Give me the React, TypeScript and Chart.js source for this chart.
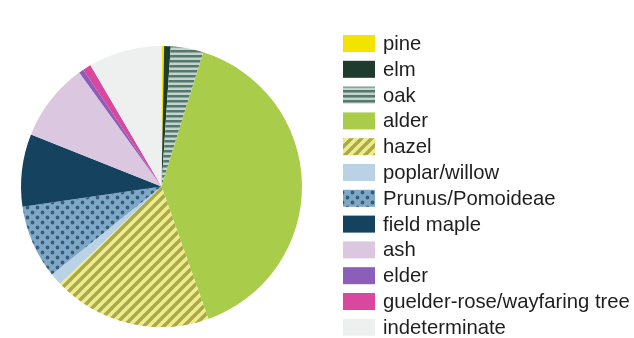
import React, { useEffect, useRef } from "react";
import { Chart, registerables } from "chart.js";

Chart.register(...registerables);

const categories = [
  "pine",
  "elm",
  "oak",
  "alder",
  "hazel",
  "poplar/willow",
  "Prunus/Pomoideae",
  "field maple",
  "ash",
  "elder",
  "guelder-rose/wayfaring tree",
  "indeterminate",
];

const percentages = [0.3, 0.75, 3.75, 39.75, 18.25, 1.4, 8.45, 8.35, 9.0, 0.55, 0.97, 8.43];

const solidColors = [
  "#f2e400",
  "#1d3b2f",
  "oak",
  "#a9cd4a",
  "hazel",
  "#b9d2e6",
  "prunus",
  "#14425f",
  "#dcc7e0",
  "#8c5db9",
  "#d9479f",
  "#eef0f0",
];

function makeTile(size: number, draw: (ctx: CanvasRenderingContext2D) => void) {
  const c = document.createElement("canvas");
  c.width = size;
  c.height = size;
  const ctx = c.getContext("2d")!;
  draw(ctx);
  return c;
}

function buildFills(ctx: CanvasRenderingContext2D) {
  const oakTile = makeTile(5, (t) => {
    t.fillStyle = "#c2d5cd";
    t.fillRect(0, 0, 5, 5);
    t.fillStyle = "#56776d";
    t.fillRect(0, 0, 5, 2.5);
  });
  const hazelTile = makeTile(10, (t) => {
    t.fillStyle = "#eded8e";
    t.fillRect(0, 0, 10, 10);
    t.strokeStyle = "#aaa848";
    t.lineWidth = 3.4;
    t.beginPath();
    t.moveTo(-2, 12);
    t.lineTo(12, -2);
    t.moveTo(-7, 7);
    t.lineTo(7, -7);
    t.moveTo(3, 17);
    t.lineTo(17, 3);
    t.stroke();
  });
  const prunusTile = makeTile(10, (t) => {
    t.fillStyle = "#7ea8c7";
    t.fillRect(0, 0, 10, 10);
    t.fillStyle = "#3b5b77";
    t.beginPath();
    t.arc(2.5, 2.5, 1.9, 0, Math.PI * 2);
    t.closePath();
    t.moveTo(9.4, 7.5);
    t.arc(7.5, 7.5, 1.9, 0, Math.PI * 2);
    t.fill();
  });
  const map: Record<string, CanvasPattern | string> = {
    oak: ctx.createPattern(oakTile, "repeat")!,
    hazel: ctx.createPattern(hazelTile, "repeat")!,
    prunus: ctx.createPattern(prunusTile, "repeat")!,
  };
  return solidColors.map((c) => (map[c] !== undefined ? map[c] : c));
}

const legendPlugin = {
  id: "customLegend",
  afterDraw(chart: any) {
    const ctx: CanvasRenderingContext2D = chart.ctx;
    const labels: string[] = chart.data.labels;
    const fills = chart.data.datasets[0].backgroundColor;
    const boxX = 343;
    const boxW = 32;
    const boxH = 17;
    const top = 35;
    const pitch = 25.8;
    ctx.save();
    ctx.font = '20.3px "Liberation Sans", Arial, sans-serif';
    ctx.textBaseline = "middle";
    ctx.textAlign = "left";
    labels.forEach((lab, i) => {
      const y = top + i * pitch;
      ctx.fillStyle = fills[i];
      ctx.fillRect(boxX, y, boxW, boxH);
      ctx.fillStyle = "#1e1e1e";
      ctx.fillText(lab, 383, y + boxH / 2 + 1);
    });
    ctx.restore();
  },
};

export default function App() {
  const ref = useRef<HTMLCanvasElement>(null);
  useEffect(() => {
    document.body.style.margin = "0";
    const canvas = ref.current!;
    const ctx = canvas.getContext("2d")!;
    const fills = buildFills(ctx);
    const chart = new Chart(canvas, {
      type: "pie",
      data: {
        labels: categories,
        datasets: [
          {
            data: percentages,
            backgroundColor: fills as any,
            borderWidth: 0,
          },
        ],
      },
      options: {
        responsive: false,
        animation: false,
        devicePixelRatio: 1,
        events: [],
        layout: { padding: { left: 21, top: 46, right: 332, bottom: 11 } },
        plugins: {
          legend: { display: false },
          tooltip: { enabled: false },
        },
      },
      plugins: [legendPlugin],
    });
    return () => chart.destroy();
  }, []);
  return (
    <div style={{ position: "fixed", left: 0, top: 0, width: 634, height: 338, background: "#ffffff" }}>
      <canvas ref={ref} width={634} height={338} />
    </div>
  );
}
